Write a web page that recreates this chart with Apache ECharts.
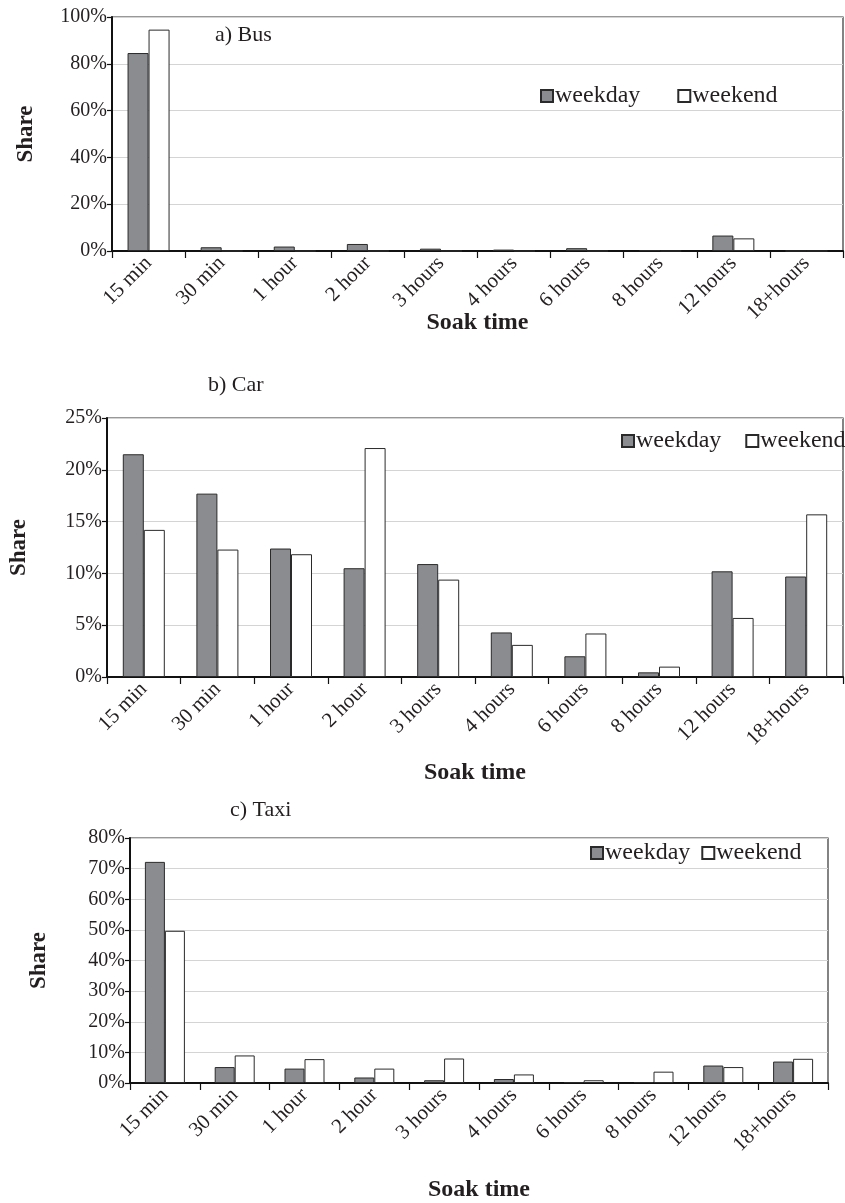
<!DOCTYPE html>
<html>
<head>
<meta charset="utf-8">
<script src="https://cdn.jsdelivr.net/npm/echarts@6/dist/echarts.min.js"></script>
<style>
html,body{margin:0;padding:0;background:#fff;}
#c{width:845px;height:1203px;}
</style>
</head>
<body>
<div id="c"></div>
<script>
var categories = ['15 min','30 min','1 hour','2 hour','3 hours','4 hours','6 hours','8 hours','12 hours','18+hours'];
var seriesNames = ['weekday','weekend'];
var busWeekday  = [84.6, 1.6, 1.9, 3.0, 1.0, 0.6, 1.2, 0.3, 6.6, 0];
var busWeekend  = [94.6, 0, 0, 0, 0, 0, 0, 0, 5.4, 0];
var carWeekday  = [21.5, 17.7, 12.4, 10.5, 10.9, 4.3, 2.0, 0.45, 10.2, 9.7];
var carWeekend  = [14.2, 12.3, 11.85, 22.1, 9.4, 3.1, 4.2, 1.0, 5.7, 15.7];
var taxiWeekday = [72.2, 5.2, 4.7, 1.8, 0.9, 1.3, 0.3, 0.3, 5.7, 7.0];
var taxiWeekend = [49.7, 9.0, 7.8, 4.7, 8.0, 2.8, 0.9, 3.7, 5.2, 7.9];
var panelTitles = ['a) Bus','b) Car','c) Taxi'];
var yMax = [100, 25, 80];
var yStep = [20, 5, 10];
var xName = 'Soak time';
var yName = 'Share';

var FONT = '"Liberation Serif", "Times New Roman", serif';
var TXT = '#231f20';
var grids = [
  {left:112, top:17,  width:731, height:234},
  {left:106, top:418, width:737, height:259},
  {left:130, top:838, width:698, height:245}
];
var xNameGap = [60, 84, 95];
var yNameGap = [74, 76, 79];
var barW = [21, 21, 20];
var data = [[busWeekday,busWeekend],[carWeekday,carWeekend],[taxiWeekday,taxiWeekend]];

var option = {
  backgroundColor:'#fff',
  animation:false,
  title: [
    {text:panelTitles[0], left:215, top:24},
    {text:panelTitles[1], left:208, top:374},
    {text:panelTitles[2], left:230, top:799}
  ].map(function(t){ t.textStyle={fontFamily:FONT,fontSize:22,fontWeight:'normal',color:TXT}; t.padding=0; return t;}),
  legend: [
    {left:540, top:84, itemGap:37},
    {left:621, top:429, itemGap:24},
    {left:590, top:841, itemGap:11}
  ].map(function(l){
    l.data = seriesNames; l.icon='rect'; l.itemWidth=12; l.itemHeight=12; l.padding=0;
    l.orient='horizontal'; l.width=300;
    l.textStyle={fontFamily:FONT,fontSize:24,color:TXT,padding:[0,0,0,-3]};
    return l;
  }),
  grid: grids.map(function(g){
    return {left:g.left, top:g.top, width:g.width, height:g.height, show:true, borderColor:'#333', borderWidth:1.2, backgroundColor:'transparent', containLabel:false};
  }),
  xAxis: grids.map(function(g,i){
    return {
      type:'category', gridIndex:i, data:categories,
      name:xName, nameLocation:'middle', nameGap:xNameGap[i], nameMoveOverlap:false,
      nameTextStyle:{fontFamily:FONT,fontSize:24,fontWeight:'bold',color:TXT},
      axisLine:{lineStyle:{color:'#111',width:2}},
      axisTick:{show:true,length:7,lineStyle:{color:'#111',width:1.2}},
      axisLabel:{rotate:45,fontFamily:FONT,fontSize:21,color:TXT,margin:9,interval:0},
      splitLine:{show:false}
    };
  }),
  yAxis: grids.map(function(g,i){
    return {
      type:'value', gridIndex:i, min:0, max:yMax[i], interval:yStep[i],
      name:yName, nameLocation:'middle', nameGap:yNameGap[i], nameRotate:90, nameMoveOverlap:false,
      nameTextStyle:{fontFamily:FONT,fontSize:23,fontWeight:'bold',color:TXT},
      axisLine:{show:true,lineStyle:{color:'#111',width:2}},
      axisTick:{show:true,length:5,lineStyle:{color:'#111',width:1.2}},
      axisLabel:{formatter:'{value}%',fontFamily:FONT,fontSize:20,color:TXT,margin:5},
      splitLine:{show:true,lineStyle:{color:'#d4d4d4',width:1.2}}
    };
  }),
  series: []
};
for (var i=0;i<3;i++){
  option.series.push({
    name:seriesNames[0], type:'bar', xAxisIndex:i, yAxisIndex:i, data:data[i][0],
    barWidth:barW[i], barGap:'0%',
    itemStyle:{color:'#8b8c8f',borderColor:'#2a2a2a',borderWidth:1}
  });
  option.series.push({
    name:seriesNames[1], type:'bar', xAxisIndex:i, yAxisIndex:i, data:data[i][1],
    barWidth:barW[i], barGap:'0%',
    itemStyle:{color:'#ffffff',borderColor:'#2a2a2a',borderWidth:1}
  });
}
var chart = echarts.init(document.getElementById('c'), null, {renderer:'canvas'});
chart.setOption(option);
</script>
</body>
</html>
